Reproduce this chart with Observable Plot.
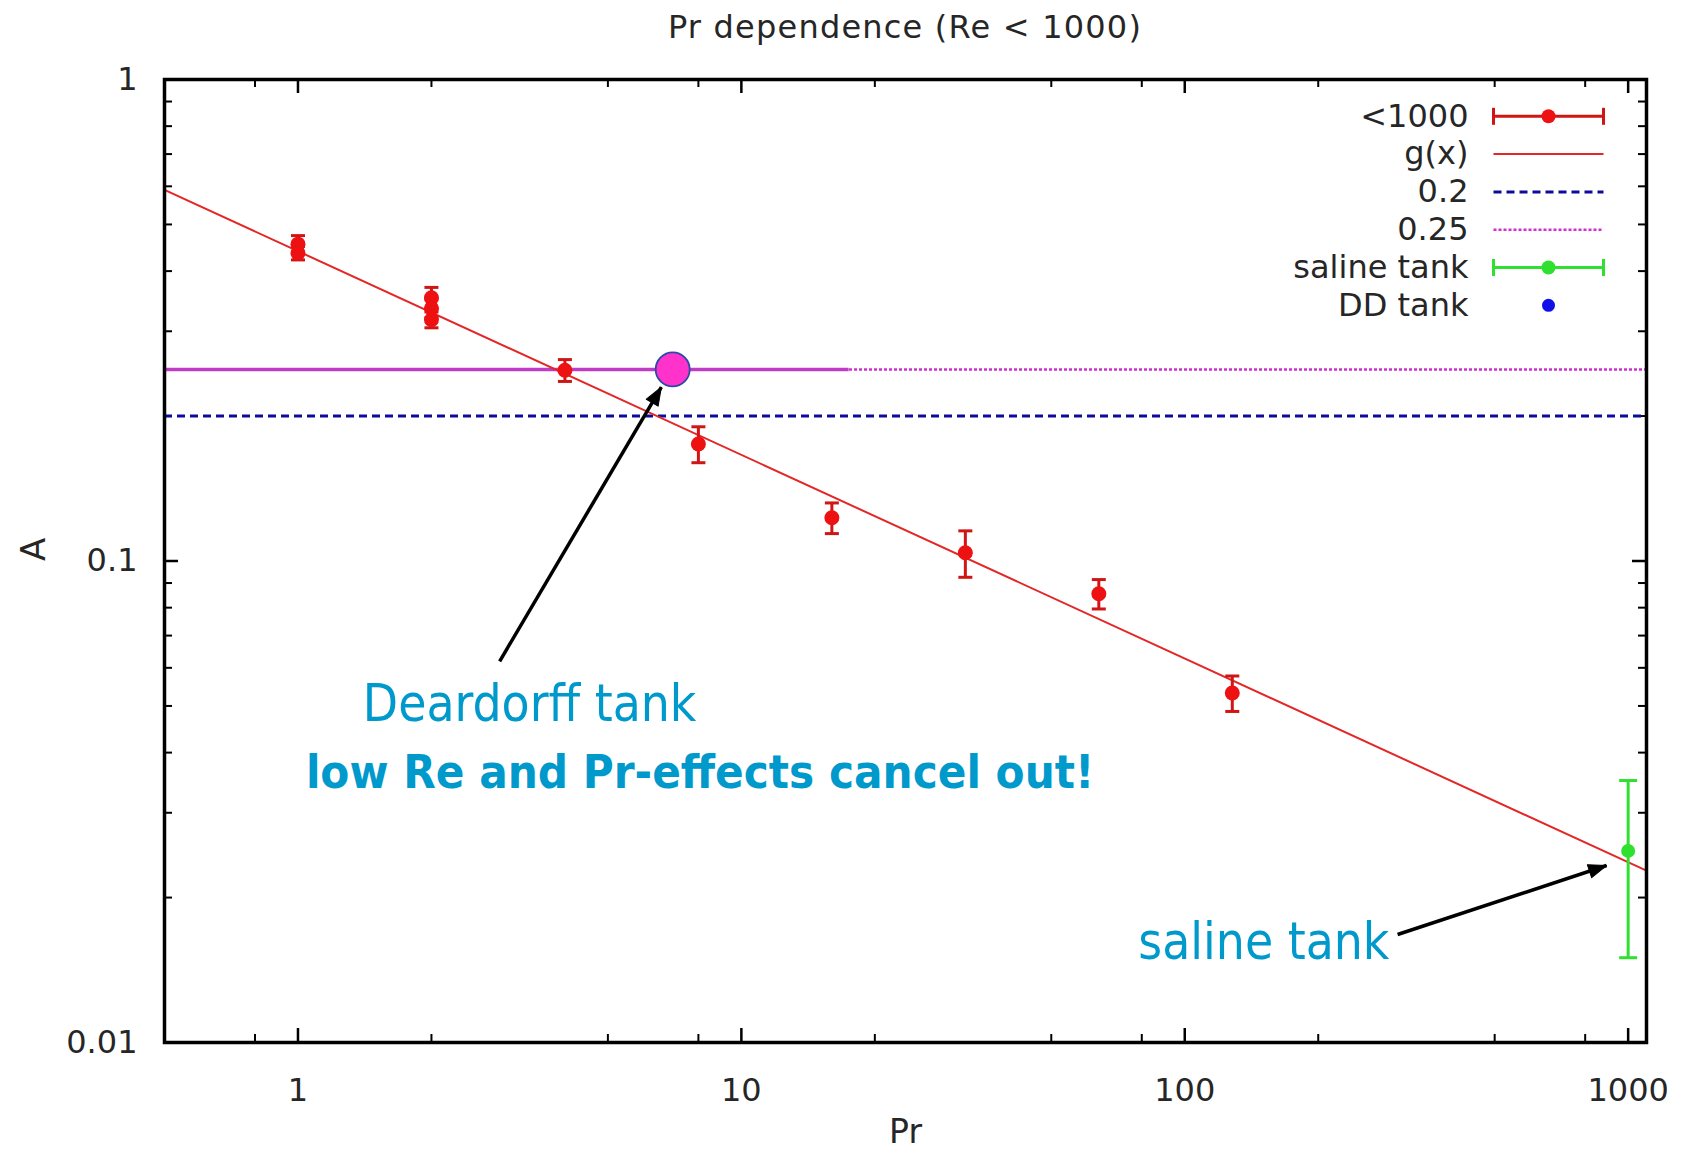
<!DOCTYPE html>
<html>
<head>
<meta charset="utf-8">
<script src="https://cdn.jsdelivr.net/npm/d3@7"></script>
<script src="https://cdn.jsdelivr.net/npm/@observablehq/plot@0.6"></script>
<style>
  html, body { margin: 0; padding: 0; background: #fff; overflow: hidden; }
  #title {
    height: 60px; box-sizing: border-box; padding-top: 11px;
    margin-left: 164px; width: 1482px; text-align: center;
    font-family: "DejaVu Sans", sans-serif; font-size: 32px; line-height: 1;
    letter-spacing: 1.2px; color: #262626;
  }
</style>
</head>
<body>
<div id="title">Pr dependence (Re &lt; 1000)</div>
<div id="chart"></div>
<script>
// Measured amplitudes A for Re < 1000 (several runs share the same Pr)
const prValues = [1, 1, 2, 2, 2, 4, 8, 16, 32, 64, 128];
const aValues  = [0.455, 0.436, 0.352, 0.335, 0.317, 0.249, 0.175, 0.123, 0.104, 0.0855, 0.0532];
const aErrors  = [0.019, 0.014, 0.018, 0.015, 0.012, 0.013, 0.015, 0.009, 0.0115, 0.006, 0.0045];

// Saline tank experiment
const salinePr = [1000];
const salineA = [0.025];
const salineErr = [0.01];

// Deardorff (DD) tank
const ddPr = [7];
const ddA = [0.25];

// Power-law fit g(x) = gCoef * x^gExp
const gCoef = 0.44;
const gExp = -0.423;

// Constant reference levels
const levelLow = 0.2;
const levelHigh = 0.25;
const levelHighSolidEnd = 17.5;

// Axis ranges and ticks
const xDomain = [0.5, 1100];
const yDomain = [0.01, 1];
const xMajor = [1, 10, 100, 1000];
const xMinor = [0.8, 2, 5, 8, 20, 50, 80, 200, 500, 800];
const yMajor = [0.01, 0.1, 1];
const yMinor = [0.02, 0.03, 0.04, 0.05, 0.06, 0.07, 0.08, 0.09,
                0.2, 0.3, 0.4, 0.5, 0.6, 0.7, 0.8, 0.9];

const legendLabels = ["<1000", "g(x)", "0.2", "0.25", "saline tank", "DD tank"];

// Annotation texts (anchored at their baseline centre) and arrows
const noteTexts = ["Deardorff tank", "low Re and Pr-effects cancel out!", "saline tank"];
const notePr = [3.33, 8.07, 150.8];
const noteA = [0.0466, 0.0337, 0.01494];
const noteBold = [false, true, false];
const arrowFromPr = [2.85, 302];
const arrowFromA = [0.0619, 0.01676];
const arrowToPr = [6.6, 894];
const arrowToA = [0.2296, 0.02331];

// ---- layout ----
const W = 1696, H = 1092;
const mL = 164, mR = 50, mT = 19, mB = 110;
const innerW = W - mL - mR, innerH = H - mT - mB;

// ---- tables ----
const measured = prValues.map((pr, i) => ({pr, a: aValues[i], lo: aValues[i] - aErrors[i], hi: aValues[i] + aErrors[i]}));
const saline = salinePr.map((pr, i) => ({pr, a: salineA[i], lo: salineA[i] - salineErr[i], hi: salineA[i] + salineErr[i]}));
const dd = ddPr.map((pr, i) => ({pr, a: ddA[i]}));
const gLine = xDomain.map(pr => ({pr, a: gCoef * Math.pow(pr, gExp)}));
const highSolid = [{from: xDomain[0], to: levelHighSolidEnd, a: levelHigh}];
const notes = noteTexts.map((text, i) => ({text, pr: notePr[i], a: noteA[i], bold: noteBold[i]}));
const arrows = arrowFromPr.map((_, i) => ({pr1: arrowFromPr[i], a1: arrowFromA[i], pr2: arrowToPr[i], a2: arrowToA[i]}));

// screen-space direction of each arrow, for orienting its head
const xs = Plot.scale({x: {type: "log", domain: xDomain, range: [mL, W - mR]}});
const ys = Plot.scale({y: {type: "log", domain: yDomain, range: [H - mB, mT]}});
arrows.forEach(d => {
  const dx = xs.apply(d.pr2) - xs.apply(d.pr1);
  const dy = ys.apply(d.a2) - ys.apply(d.a1);
  d.angle = Math.atan2(dx, -dy) * 180 / Math.PI;
});

// ---- shapes ----
const capSymbol = {draw(ctx, size) { const w = Math.sqrt(size / Math.PI); ctx.moveTo(-w, 0); ctx.lineTo(w, 0); }};
const lineShape = {draw(ctx, l) { ctx.moveTo(0, 0); ctx.lineTo(0, -l); }};
const headShape = {draw(ctx, l) { ctx.moveTo(0, -l); ctx.lineTo(l * 0.38, 0); ctx.lineTo(-l * 0.38, 0); ctx.closePath(); }};

const RED = "#ee1111", RED_BAR = "#d01515", FIT = "#e42626";
const BLUE = "#0c0c9c", MAGENTA = "#d030d0", MAGENTA_SOLID = "#bf3cc6";
const GREEN = "#30e030", NOTE = "#0099cc";

function errorMarks(data, color, capR, dotR, dotFill) {
  return [
    Plot.ruleX(data, {x: "pr", y1: "lo", y2: "hi", stroke: color, strokeWidth: 3}),
    Plot.dot(data, {x: "pr", y: "lo", symbol: capSymbol, r: capR, stroke: color, strokeWidth: 3, fill: "none"}),
    Plot.dot(data, {x: "pr", y: "hi", symbol: capSymbol, r: capR, stroke: color, strokeWidth: 3, fill: "none"}),
    Plot.dot(data, {x: "pr", y: "a", r: dotR, fill: dotFill, stroke: "none"})
  ];
}

// ---- legend ----
const legendX = -98;       // sample centre, from the right edge of the frame
const legendTextX = -178;  // right edge of the labels
const rowY = i => 36.8 + i * 37.8;
const legendMarks = [];
legendLabels.forEach((label, i) => {
  legendMarks.push(Plot.text([label], {frameAnchor: "top-right", text: d => d, dx: legendTextX, dy: rowY(i),
    textAnchor: "end", lineAnchor: "middle", fontSize: 32, fill: "#262626"}));
});
const sample = (i, opts) => Plot.vector([0], {frameAnchor: "top-right", dx: legendX, dy: rowY(i), rotate: 90,
  length: 110, anchor: "middle", shape: lineShape, strokeLinecap: "butt", ...opts});
const sampleCap = (i, off, color) => Plot.vector([0], {frameAnchor: "top-right", dx: legendX + off, dy: rowY(i),
  rotate: 0, length: 17, anchor: "middle", shape: lineShape, stroke: color, strokeWidth: 3, strokeLinecap: "butt"});
const sampleDot = (i, r, fill) => Plot.dot([0], {frameAnchor: "top-right", dx: legendX, dy: rowY(i), r, fill, stroke: "none"});
legendMarks.push(
  sample(0, {stroke: RED_BAR, strokeWidth: 3}), sampleCap(0, -55, RED_BAR), sampleCap(0, 55, RED_BAR), sampleDot(0, 7, RED),
  sample(1, {stroke: FIT, strokeWidth: 2}),
  sample(2, {stroke: BLUE, strokeWidth: 3, strokeDasharray: "8,5"}),
  sample(3, {stroke: MAGENTA, strokeWidth: 2.5, strokeDasharray: "3,2"}),
  sample(4, {stroke: GREEN, strokeWidth: 3}), sampleCap(4, -55, GREEN), sampleCap(4, 55, GREEN), sampleDot(4, 7, GREEN),
  sampleDot(5, 6.5, "#1010e8")
);

// ---- gnuplot-style inward ticks on all four sides ----
const tickMarks = [
  Plot.ruleX(xMajor, {insetTop: innerH - 14, stroke: "black", strokeWidth: 2.5}),
  Plot.ruleX(xMajor, {insetBottom: innerH - 14, stroke: "black", strokeWidth: 2.5}),
  Plot.ruleX(xMinor, {insetTop: innerH - 8, stroke: "black", strokeWidth: 2}),
  Plot.ruleX(xMinor, {insetBottom: innerH - 8, stroke: "black", strokeWidth: 2}),
  Plot.ruleY(yMajor, {insetRight: innerW - 14, stroke: "black", strokeWidth: 2.5}),
  Plot.ruleY(yMajor, {insetLeft: innerW - 14, stroke: "black", strokeWidth: 2.5}),
  Plot.ruleY(yMinor, {insetRight: innerW - 8, stroke: "black", strokeWidth: 2}),
  Plot.ruleY(yMinor, {insetLeft: innerW - 8, stroke: "black", strokeWidth: 2})
];

const chart = Plot.plot({
  width: W, height: H,
  marginLeft: mL, marginRight: mR, marginTop: mT, marginBottom: mB,
  style: {fontFamily: "DejaVu Sans, sans-serif", fontSize: "31px", color: "#262626", background: "white"},
  x: {type: "log", domain: xDomain},
  y: {type: "log", domain: yDomain},
  marks: [
    Plot.axisX(xMajor, {tickSize: 0, tickPadding: 36, tickFormat: d => String(d), label: null, fontSize: 32}),
    Plot.axisY(yMajor, {tickSize: 0, tickPadding: 27, tickFormat: d => String(d), label: null, fontSize: 32}),
    Plot.text(["Pr"], {frameAnchor: "bottom", text: d => d, dy: 100, lineAnchor: "bottom", fontSize: 33, fill: "#262626"}),
    Plot.text(["A"], {frameAnchor: "left", text: d => d, dx: -130, rotate: -90, lineAnchor: "middle", fontSize: 34, fill: "#262626"}),
    ...tickMarks,

    // reference levels
    Plot.ruleY([levelLow], {stroke: BLUE, strokeWidth: 3, strokeDasharray: "8,5"}),
    Plot.ruleY([levelHigh], {stroke: MAGENTA, strokeWidth: 2.5, strokeDasharray: "3,2"}),
    Plot.ruleY(highSolid, {y: "a", x1: "from", x2: "to", stroke: MAGENTA_SOLID, strokeWidth: 3.5}),

    // fit
    Plot.line(gLine, {x: "pr", y: "a", stroke: FIT, strokeWidth: 2}),

    // data
    ...errorMarks(measured, RED_BAR, 7, 7.5, RED),
    ...errorMarks(saline, GREEN, 9, 7, GREEN),
    Plot.dot(dd, {x: "pr", y: "a", r: 17, fill: "#ff33cc", stroke: "#2b4aa8", strokeWidth: 1.8}),

    // annotations
    Plot.link(arrows, {x1: "pr1", y1: "a1", x2: "pr2", y2: "a2", stroke: "black", strokeWidth: 3.5}),
    Plot.vector(arrows, {x: "pr2", y: "a2", rotate: "angle", length: 18, anchor: "end", shape: headShape,
      fill: "black", stroke: "black", strokeWidth: 1}),
    Plot.text(notes.filter(d => !d.bold), {x: "pr", y: "a", text: "text", fill: NOTE, fontSize: 51,
      fontFamily: "DejaVu Sans Condensed, DejaVu Sans, sans-serif", textAnchor: "middle", lineAnchor: "bottom"}),
    Plot.text(notes.filter(d => d.bold), {x: "pr", y: "a", text: "text", fill: NOTE, fontSize: 47, fontWeight: "bold",
      fontFamily: "DejaVu Sans Condensed, DejaVu Sans, sans-serif", textAnchor: "middle", lineAnchor: "bottom"}),

    ...legendMarks,
    Plot.frame({stroke: "black", strokeWidth: 3.5})
  ]
});
document.getElementById("chart").appendChild(chart);
</script>
</body>
</html>
